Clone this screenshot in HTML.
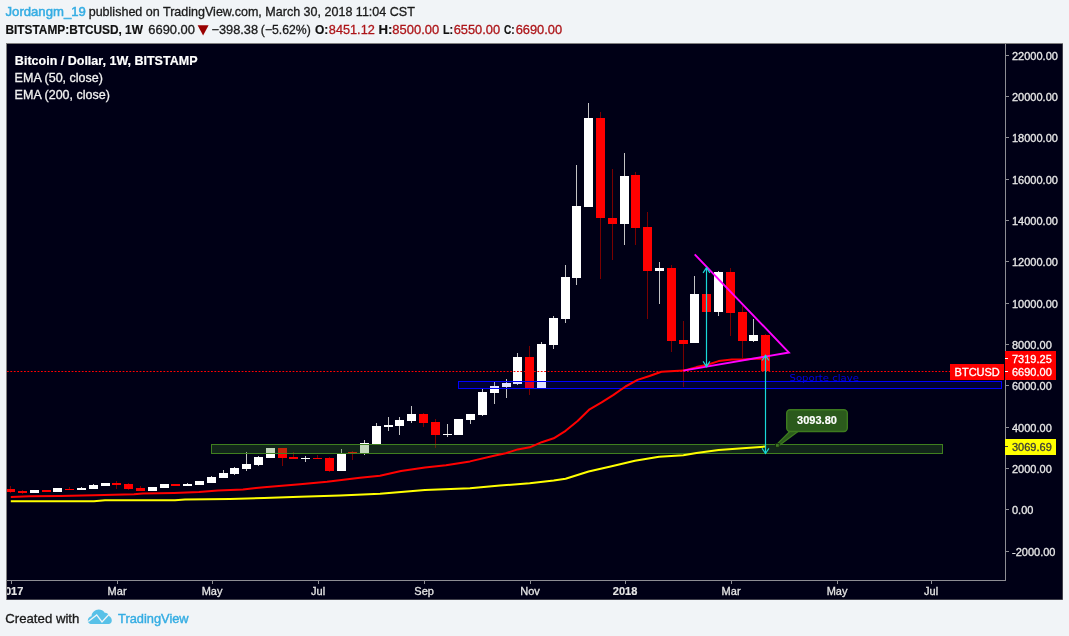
<!DOCTYPE html>
<html lang="en"><head><meta charset="utf-8"><title>BTCUSD 1W - TradingView</title>
<style>html,body{margin:0;padding:0;background:#f1f4f7;}body{width:1069px;height:636px;overflow:hidden;font-family:"Liberation Sans",sans-serif;}svg{display:block}text{font-family:"Liberation Sans",sans-serif;}</style>
</head><body>
<svg width="1069" height="636" viewBox="0 0 1069 636">
<rect width="1069" height="636" fill="#f1f4f7"/>
<text x="5.56" y="15.6" font-size="12.6" fill="#35ade3" stroke="#35ade3" stroke-width="0.5" textLength="80.23" lengthAdjust="spacingAndGlyphs">Jordangm_19</text>
<text x="88.69" y="15.6" font-size="12.6" fill="#1a1a1a" stroke="#1a1a1a" stroke-width="0.3" textLength="326.13" lengthAdjust="spacingAndGlyphs">published on TradingView.com, March 30, 2018 11:04 CST</text>
<text x="5.52" y="33.5" font-size="12.6" fill="#111" stroke="#111" stroke-width="0.18" font-weight="bold" textLength="137.36" lengthAdjust="spacingAndGlyphs">BITSTAMP:BTCUSD, 1W</text>
<text x="148.29" y="33.5" font-size="12.6" fill="#1a1a1a" stroke="#1a1a1a" stroke-width="0.3" textLength="46.69" lengthAdjust="spacingAndGlyphs">6690.00</text>
<path d="M197.6 25.2 L208.6 25.2 L203.1 35.6 Z" fill="#990000"/>
<text x="211.5" y="33.5" font-size="12.6" fill="#1a1a1a" stroke="#1a1a1a" stroke-width="0.3" textLength="46.6" lengthAdjust="spacingAndGlyphs">−398.38</text>
<text x="260.82" y="33.5" font-size="12.6" fill="#1a1a1a" stroke="#1a1a1a" stroke-width="0.3" textLength="49.98" lengthAdjust="spacingAndGlyphs">(−5.62%)</text>
<text x="314.88" y="33.5" font-size="12.6" fill="#111" stroke="#111" stroke-width="0.18" font-weight="bold" textLength="13.35" lengthAdjust="spacingAndGlyphs">O:</text>
<text x="328.86" y="33.5" font-size="12.6" fill="#ad1519" stroke="#ad1519" stroke-width="0.3" textLength="45.92" lengthAdjust="spacingAndGlyphs">8451.12</text>
<text x="378.55" y="33.5" font-size="12.6" fill="#111" stroke="#111" stroke-width="0.18" font-weight="bold" textLength="13.87" lengthAdjust="spacingAndGlyphs">H:</text>
<text x="392.37" y="33.5" font-size="12.6" fill="#ad1519" stroke="#ad1519" stroke-width="0.3" textLength="46.8" lengthAdjust="spacingAndGlyphs">8500.00</text>
<text x="442.95" y="33.5" font-size="12.6" fill="#111" stroke="#111" stroke-width="0.18" font-weight="bold" textLength="10.22" lengthAdjust="spacingAndGlyphs">L:</text>
<text x="453.7" y="33.5" font-size="12.6" fill="#ad1519" stroke="#ad1519" stroke-width="0.3" textLength="46.45" lengthAdjust="spacingAndGlyphs">6550.00</text>
<text x="503.95" y="33.5" font-size="12.6" fill="#111" stroke="#111" stroke-width="0.18" font-weight="bold" textLength="10.65" lengthAdjust="spacingAndGlyphs">C:</text>
<text x="515.7" y="33.5" font-size="12.6" fill="#ad1519" stroke="#ad1519" stroke-width="0.3" textLength="46.45" lengthAdjust="spacingAndGlyphs">6690.00</text>
<rect x="6" y="43" width="1057" height="557" fill="#808080"/>
<rect x="7" y="44" width="1055.5" height="555.5" fill="#000016"/>
<g shape-rendering="crispEdges">
<rect x="10" y="486" width="1" height="7" fill="#7a0000"/>
<rect x="7" y="489" width="8" height="3" fill="#ff0000"/>
<rect x="22" y="490" width="1" height="4" fill="#7a0000"/>
<rect x="18" y="491" width="9" height="2" fill="#ff0000"/>
<rect x="30" y="490" width="9" height="3" fill="#ffffff"/>
<rect x="42" y="490" width="9" height="2" fill="#ff0000"/>
<rect x="53" y="488" width="9" height="4" fill="#ffffff"/>
<rect x="69" y="487" width="1" height="3" fill="#7a0000"/>
<rect x="65" y="489" width="9" height="1" fill="#ff0000"/>
<rect x="81" y="487" width="1" height="3" fill="#c4c4c4"/>
<rect x="77" y="488" width="9" height="2" fill="#ffffff"/>
<rect x="93" y="484" width="1" height="5" fill="#c4c4c4"/>
<rect x="89" y="485" width="9" height="4" fill="#ffffff"/>
<rect x="101" y="483" width="9" height="3" fill="#ffffff"/>
<rect x="116" y="481" width="1" height="8" fill="#7a0000"/>
<rect x="112" y="483" width="9" height="2" fill="#ff0000"/>
<rect x="128" y="483" width="1" height="7" fill="#7a0000"/>
<rect x="124" y="484" width="9" height="5" fill="#ff0000"/>
<rect x="140" y="486" width="1" height="5" fill="#7a0000"/>
<rect x="136" y="488" width="9" height="3" fill="#ff0000"/>
<rect x="148" y="487" width="9" height="4" fill="#ffffff"/>
<rect x="160" y="484" width="9" height="4" fill="#ffffff"/>
<rect x="171" y="484" width="9" height="2" fill="#ff0000"/>
<rect x="187" y="483" width="1" height="3" fill="#c4c4c4"/>
<rect x="183" y="484" width="9" height="2" fill="#ffffff"/>
<rect x="195" y="481" width="9" height="4" fill="#ffffff"/>
<rect x="211" y="476" width="1" height="7" fill="#c4c4c4"/>
<rect x="207" y="477" width="9" height="6" fill="#ffffff"/>
<rect x="223" y="470" width="1" height="8" fill="#c4c4c4"/>
<rect x="219" y="473" width="9" height="5" fill="#ffffff"/>
<rect x="234" y="467" width="1" height="8" fill="#c4c4c4"/>
<rect x="230" y="468" width="9" height="6" fill="#ffffff"/>
<rect x="246" y="452" width="1" height="19" fill="#c4c4c4"/>
<rect x="242" y="464" width="9" height="5" fill="#ffffff"/>
<rect x="258" y="456" width="1" height="10" fill="#c4c4c4"/>
<rect x="254" y="457" width="9" height="8" fill="#ffffff"/>
<rect x="266" y="448" width="9" height="10" fill="#ffffff"/>
<rect x="282" y="448" width="1" height="18" fill="#7a0000"/>
<rect x="278" y="448" width="9" height="10" fill="#ff0000"/>
<rect x="293" y="452" width="1" height="7" fill="#7a0000"/>
<rect x="289" y="457" width="9" height="2" fill="#ff0000"/>
<rect x="305" y="456" width="1" height="6" fill="#c4c4c4"/>
<rect x="301" y="458" width="9" height="1" fill="#ffffff"/>
<rect x="317" y="455" width="1" height="4" fill="#7a0000"/>
<rect x="313" y="458" width="9" height="1" fill="#ff0000"/>
<rect x="329" y="457" width="1" height="15" fill="#7a0000"/>
<rect x="325" y="458" width="9" height="13" fill="#ff0000"/>
<rect x="341" y="449" width="1" height="22" fill="#c4c4c4"/>
<rect x="337" y="454" width="9" height="17" fill="#ffffff"/>
<rect x="352" y="451" width="1" height="9" fill="#7a0000"/>
<rect x="348" y="452" width="9" height="1" fill="#ff0000"/>
<rect x="364" y="440" width="1" height="15" fill="#c4c4c4"/>
<rect x="360" y="443" width="9" height="10" fill="#ffffff"/>
<rect x="376" y="423" width="1" height="21" fill="#c4c4c4"/>
<rect x="372" y="426" width="9" height="18" fill="#ffffff"/>
<rect x="388" y="417" width="1" height="14" fill="#c4c4c4"/>
<rect x="384" y="425" width="9" height="2" fill="#ffffff"/>
<rect x="399" y="417" width="1" height="18" fill="#c4c4c4"/>
<rect x="395" y="420" width="9" height="6" fill="#ffffff"/>
<rect x="411" y="406" width="1" height="17" fill="#c4c4c4"/>
<rect x="407" y="414" width="9" height="7" fill="#ffffff"/>
<rect x="423" y="413" width="1" height="14" fill="#7a0000"/>
<rect x="419" y="414" width="9" height="9" fill="#ff0000"/>
<rect x="435" y="419" width="1" height="29" fill="#7a0000"/>
<rect x="431" y="422" width="9" height="13" fill="#ff0000"/>
<rect x="447" y="424" width="1" height="13" fill="#c4c4c4"/>
<rect x="443" y="434" width="9" height="1" fill="#ffffff"/>
<rect x="454" y="419" width="9" height="16" fill="#ffffff"/>
<rect x="470" y="414" width="1" height="10" fill="#c4c4c4"/>
<rect x="466" y="414" width="9" height="6" fill="#ffffff"/>
<rect x="482" y="389" width="1" height="27" fill="#c4c4c4"/>
<rect x="478" y="392" width="9" height="23" fill="#ffffff"/>
<rect x="494" y="382" width="1" height="22" fill="#c4c4c4"/>
<rect x="490" y="386" width="9" height="7" fill="#ffffff"/>
<rect x="506" y="379" width="1" height="19" fill="#c4c4c4"/>
<rect x="502" y="383" width="9" height="4" fill="#ffffff"/>
<rect x="517" y="353" width="1" height="32" fill="#c4c4c4"/>
<rect x="513" y="357" width="9" height="27" fill="#ffffff"/>
<rect x="529" y="346" width="1" height="49" fill="#7a0000"/>
<rect x="525" y="357" width="9" height="31" fill="#ff0000"/>
<rect x="541" y="342" width="1" height="46" fill="#c4c4c4"/>
<rect x="537" y="344" width="9" height="44" fill="#ffffff"/>
<rect x="553" y="316" width="1" height="33" fill="#c4c4c4"/>
<rect x="549" y="318" width="9" height="27" fill="#ffffff"/>
<rect x="565" y="265" width="1" height="58" fill="#c4c4c4"/>
<rect x="561" y="277" width="9" height="42" fill="#ffffff"/>
<rect x="576" y="165" width="1" height="120" fill="#c4c4c4"/>
<rect x="572" y="206" width="9" height="72" fill="#ffffff"/>
<rect x="588" y="103" width="1" height="104" fill="#c4c4c4"/>
<rect x="584" y="118" width="9" height="89" fill="#ffffff"/>
<rect x="600" y="112" width="1" height="167" fill="#7a0000"/>
<rect x="596" y="118" width="9" height="100" fill="#ff0000"/>
<rect x="612" y="169" width="1" height="91" fill="#7a0000"/>
<rect x="608" y="218" width="9" height="6" fill="#ff0000"/>
<rect x="624" y="153" width="1" height="92" fill="#c4c4c4"/>
<rect x="620" y="176" width="9" height="48" fill="#ffffff"/>
<rect x="635" y="172" width="1" height="73" fill="#7a0000"/>
<rect x="631" y="175" width="9" height="53" fill="#ff0000"/>
<rect x="647" y="212" width="1" height="107" fill="#7a0000"/>
<rect x="643" y="227" width="9" height="44" fill="#ff0000"/>
<rect x="659" y="262" width="1" height="42" fill="#c4c4c4"/>
<rect x="655" y="268" width="9" height="3" fill="#ffffff"/>
<rect x="671" y="265" width="1" height="87" fill="#7a0000"/>
<rect x="667" y="268" width="9" height="73" fill="#ff0000"/>
<rect x="683" y="321" width="1" height="66" fill="#7a0000"/>
<rect x="679" y="340" width="9" height="4" fill="#ff0000"/>
<rect x="694" y="276" width="1" height="67" fill="#c4c4c4"/>
<rect x="690" y="294" width="9" height="49" fill="#ffffff"/>
<rect x="706" y="282" width="1" height="40" fill="#7a0000"/>
<rect x="702" y="294" width="9" height="18" fill="#ff0000"/>
<rect x="718" y="271" width="1" height="45" fill="#c4c4c4"/>
<rect x="714" y="272" width="9" height="40" fill="#ffffff"/>
<rect x="730" y="268" width="1" height="68" fill="#7a0000"/>
<rect x="726" y="272" width="9" height="41" fill="#ff0000"/>
<rect x="742" y="306" width="1" height="52" fill="#7a0000"/>
<rect x="738" y="312" width="9" height="29" fill="#ff0000"/>
<rect x="753" y="319" width="1" height="23" fill="#c4c4c4"/>
<rect x="749" y="335" width="9" height="6" fill="#ffffff"/>
<rect x="765" y="334" width="1" height="41" fill="#7a0000"/>
<rect x="761" y="335" width="9" height="36" fill="#ff0000"/>
</g>
<line x1="7" y1="371.5" x2="950" y2="371.5" stroke="#ff0000" stroke-width="1" stroke-dasharray="1.8 1.6"/>
<rect x="211.5" y="444.5" width="731" height="9" fill="rgba(60,125,38,0.3)" stroke="#3f7f1f" stroke-width="1"/>
<rect x="458.5" y="381.5" width="543" height="7" fill="rgba(10,10,255,0.13)" stroke="#0000ff" stroke-width="1"/>
<polyline fill="none" stroke="#ffff00" stroke-width="2.0" stroke-linejoin="round" stroke-linecap="butt" points="10.8,501.3 94,501.3 105,500.3 175,500.3 185,499.4 230,498.9 264,498 300,496.8 340,495.4 380,493.7 425,490.1 470,488.3 500,485.6 529.7,483.2 553.7,480.5 565.6,478.7 588.6,471.5 611.7,466.2 634.9,460.7 659.1,456.7 683.3,455.2 696.5,453 718.6,450.1 742.8,448.3 765.5,446.6"/>
<polyline fill="none" stroke="#ff0000" stroke-width="2.0" stroke-linejoin="round" stroke-linecap="butt" points="10.8,497 30,496.3 60,496 94,495.2 134,494.2 143,493.4 174,492.9 199,492 218,490.6 243,489.5 256,487.9 264,487.2 300,484.3 327,481.8 360,477.8 380,475.7 401,471 425,467.4 446,465.3 470,461.4 494,455.7 505.7,453.3 517.7,449.4 529.7,447.3 541.7,442.2 553.7,438.3 565.6,430.8 577.6,421 589.6,409.3 601.6,402.4 613.5,394.9 625.5,386.5 637.5,379.9 649.5,376 661.4,371.8 683.3,370.6 696.5,367.1 707.5,364.7 718.6,361.1 731.8,359.4 742.8,359.4 753.8,358.8 765.5,358.6"/>
<text x="789.53" y="381.3" font-size="9.4" fill="#0000e6" textLength="69.42" lengthAdjust="spacingAndGlyphs" style="font-family:'DejaVu Sans','Liberation Sans',sans-serif">Soporte clave</text>
<path d="M694.7 254.4 L788.9 352.5 L683.3 370.6" fill="none" stroke="#ff00ff" stroke-width="1.9" stroke-linejoin="miter" stroke-linecap="butt"/>
<g fill="none" stroke="#18d8d8" stroke-width="1.2"><path d="M706.5 267.6 L706.5 366.6"/><path d="M703.1 272.8 L706.5 267.6 L709.9 272.8"/><path d="M703.1 361.40000000000003 L706.5 366.6 L709.9 361.40000000000003"/></g>
<g fill="none" stroke="#18d8d8" stroke-width="1.2"><path d="M765.5 355.3 L765.5 453.5"/><path d="M762.1 360.5 L765.5 355.3 L768.9 360.5"/><path d="M762.1 448.3 L765.5 453.5 L768.9 448.3"/></g>
<path d="M791.2 430 L800 430 L778.4 446 L776.8 444.4 Z" fill="#2b5a1c" stroke="#3d7a1f" stroke-width="1.3" stroke-linejoin="round"/>
<rect x="786.7" y="409.7" width="60.6" height="21.8" rx="3.5" ry="3.5" fill="#2b5a1c" stroke="#3d7a1f" stroke-width="1.4"/>
<rect x="775.6" y="443.6" width="3.6" height="3.6" fill="#3d7a1f" stroke="#12200f" stroke-width="0.8"/>
<text x="817" y="424" font-size="11" fill="#ffffff" stroke="#ffffff" stroke-width="0.18" font-weight="bold" text-anchor="middle">3093.80</text>
<g shape-rendering="crispEdges" fill="#8d8d93">
<rect x="7" y="580" width="999" height="1"/>
<rect x="1005" y="44" width="1" height="537"/>
<rect x="1006" y="551" width="3" height="1"/>
<rect x="1006" y="509" width="3" height="1"/>
<rect x="1006" y="468" width="3" height="1"/>
<rect x="1006" y="427" width="3" height="1"/>
<rect x="1006" y="385" width="3" height="1"/>
<rect x="1006" y="344" width="3" height="1"/>
<rect x="1006" y="303" width="3" height="1"/>
<rect x="1006" y="261" width="3" height="1"/>
<rect x="1006" y="220" width="3" height="1"/>
<rect x="1006" y="179" width="3" height="1"/>
<rect x="1006" y="137" width="3" height="1"/>
<rect x="1006" y="96" width="3" height="1"/>
<rect x="1006" y="55" width="3" height="1"/>
<rect x="11" y="581" width="1" height="3"/>
<rect x="117" y="581" width="1" height="3"/>
<rect x="212" y="581" width="1" height="3"/>
<rect x="318" y="581" width="1" height="3"/>
<rect x="424" y="581" width="1" height="3"/>
<rect x="530" y="581" width="1" height="3"/>
<rect x="625" y="581" width="1" height="3"/>
<rect x="731" y="581" width="1" height="3"/>
<rect x="837" y="581" width="1" height="3"/>
<rect x="931" y="581" width="1" height="3"/>
</g>
<clipPath id="cc"><rect x="7" y="44" width="1055" height="555"/></clipPath>
<g clip-path="url(#cc)">
<text x="11.1" y="594.8" font-size="11" fill="#e4e4e4" stroke="#e4e4e4" stroke-width="0.18" font-weight="bold" text-anchor="middle">2017</text>
<text x="117.1" y="594.8" font-size="11" fill="#e4e4e4" stroke="#e4e4e4" stroke-width="0.3" text-anchor="middle">Mar</text>
<text x="212.1" y="594.8" font-size="11" fill="#e4e4e4" stroke="#e4e4e4" stroke-width="0.3" text-anchor="middle">May</text>
<text x="318.1" y="594.8" font-size="11" fill="#e4e4e4" stroke="#e4e4e4" stroke-width="0.3" text-anchor="middle">Jul</text>
<text x="424.1" y="594.8" font-size="11" fill="#e4e4e4" stroke="#e4e4e4" stroke-width="0.3" text-anchor="middle">Sep</text>
<text x="530.1" y="594.8" font-size="11" fill="#e4e4e4" stroke="#e4e4e4" stroke-width="0.3" text-anchor="middle">Nov</text>
<text x="625.1" y="594.8" font-size="11" fill="#e4e4e4" stroke="#e4e4e4" stroke-width="0.18" font-weight="bold" text-anchor="middle">2018</text>
<text x="731.1" y="594.8" font-size="11" fill="#e4e4e4" stroke="#e4e4e4" stroke-width="0.3" text-anchor="middle">Mar</text>
<text x="837.1" y="594.8" font-size="11" fill="#e4e4e4" stroke="#e4e4e4" stroke-width="0.3" text-anchor="middle">May</text>
<text x="931.1" y="594.8" font-size="11" fill="#e4e4e4" stroke="#e4e4e4" stroke-width="0.3" text-anchor="middle">Jul</text>
</g>
<text x="1012" y="556.1" font-size="11" fill="#e8e8e8" stroke="#e8e8e8" stroke-width="0.3">-2000.00</text>
<text x="1012" y="513.8" font-size="11" fill="#e8e8e8" stroke="#e8e8e8" stroke-width="0.3">0.00</text>
<text x="1012" y="473.3" font-size="11" fill="#e8e8e8" stroke="#e8e8e8" stroke-width="0.3">2000.00</text>
<text x="1012" y="432.0" font-size="11" fill="#e8e8e8" stroke="#e8e8e8" stroke-width="0.3">4000.00</text>
<text x="1012" y="389.7" font-size="11" fill="#e8e8e8" stroke="#e8e8e8" stroke-width="0.3">6000.00</text>
<text x="1012" y="349.2" font-size="11" fill="#e8e8e8" stroke="#e8e8e8" stroke-width="0.3">8000.00</text>
<text x="1012" y="307.9" font-size="11" fill="#e8e8e8" stroke="#e8e8e8" stroke-width="0.3">10000.00</text>
<text x="1012" y="265.6" font-size="11" fill="#e8e8e8" stroke="#e8e8e8" stroke-width="0.3">12000.00</text>
<text x="1012" y="225.1" font-size="11" fill="#e8e8e8" stroke="#e8e8e8" stroke-width="0.3">14000.00</text>
<text x="1012" y="183.8" font-size="11" fill="#e8e8e8" stroke="#e8e8e8" stroke-width="0.3">16000.00</text>
<text x="1012" y="142.4" font-size="11" fill="#e8e8e8" stroke="#e8e8e8" stroke-width="0.3">18000.00</text>
<text x="1012" y="101.0" font-size="11" fill="#e8e8e8" stroke="#e8e8e8" stroke-width="0.3">20000.00</text>
<text x="1012" y="59.7" font-size="11" fill="#e8e8e8" stroke="#e8e8e8" stroke-width="0.3">22000.00</text>
<g shape-rendering="crispEdges">
<rect x="1005" y="351" width="51" height="14.5" fill="#ff0000"/>
<rect x="1005" y="365" width="51" height="15" fill="#ff0000"/>
<rect x="950" y="364.4" width="54.4" height="15.6" fill="#ff0000"/>
<rect x="1005" y="439" width="51" height="16" fill="#ffff00"/>
<rect x="1005" y="358" width="3" height="1" fill="#ffffff"/>
<rect x="1005" y="371" width="3" height="1" fill="#ffffff"/>
<rect x="1005" y="446" width="3" height="1" fill="#333333"/>
</g>
<text x="1012" y="362.6" font-size="11" fill="#ffffff" stroke="#ffffff" stroke-width="0.3">7319.25</text>
<text x="1012" y="375.7" font-size="11" fill="#ffffff" stroke="#ffffff" stroke-width="0.3">6690.00</text>
<text x="1012" y="451" font-size="11" fill="#3a3a3a" stroke="#3a3a3a" stroke-width="0.3">3069.69</text>
<text x="977.2" y="375.7" font-size="11" fill="#ffffff" stroke="#ffffff" stroke-width="0.3" text-anchor="middle">BTCUSD</text>
<text x="14.89" y="65" font-size="12.2" fill="#ffffff" stroke="#ffffff" stroke-width="0.18" font-weight="bold" textLength="182.61" lengthAdjust="spacingAndGlyphs">Bitcoin / Dollar, 1W, BITSTAMP</text>
<text x="14.64" y="82" font-size="12.2" fill="#f0f0f0" stroke="#f0f0f0" stroke-width="0.3" textLength="88.31" lengthAdjust="spacingAndGlyphs">EMA (50, close)</text>
<text x="14.64" y="99" font-size="12.2" fill="#f0f0f0" stroke="#f0f0f0" stroke-width="0.3" textLength="95.31" lengthAdjust="spacingAndGlyphs">EMA (200, close)</text>
<text x="5.28" y="622.8" font-size="12.4" fill="#1a1a1a" stroke="#1a1a1a" stroke-width="0.3" textLength="74.1" lengthAdjust="spacingAndGlyphs">Created with</text>
<g>
<path d="M90.5 624 C88.9 624 87.8 622.3 87.8 620.6 C87.8 618.4 89.3 616.6 91.5 616.3 C91.8 612.6 94.9 609.6 98.7 609.6 C101.2 609.6 103.4 610.8 104.7 612.7 C106.5 612.5 108.2 613.5 108.9 615.2 L108.9 616 C110.6 616.7 111.8 618.4 111.8 620.4 C111.8 622.4 110.4 624 108.6 624 Z" fill="#58c1e8"/>
<path d="M88.3 621.5 L96.7 614.9 L102 621.9 L109.8 613.5" fill="none" stroke="#f1f4f7" stroke-width="1.3" stroke-linejoin="miter"/>
</g>
<text x="118.05" y="622.9" font-size="12.4" fill="#35ade3" stroke="#35ade3" stroke-width="0.4" textLength="70.59" lengthAdjust="spacingAndGlyphs">TradingView</text>
</svg>
</body></html>
